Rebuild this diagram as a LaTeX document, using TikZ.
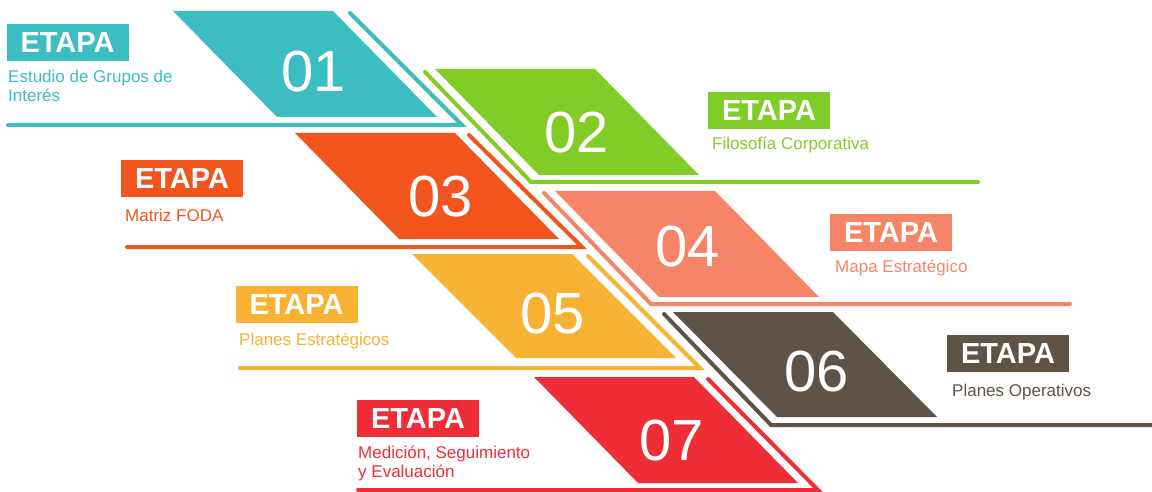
\documentclass[tikz,border=0pt]{standalone}
\usepackage{fontspec}
\setmainfont{Liberation Sans}
\usepackage{tikz}
\definecolor{turquesa}{HTML}{3BBDC2}
\definecolor{verde}{HTML}{82CC28}
\definecolor{naranja}{HTML}{F2541D}
\definecolor{salmon}{HTML}{F58566}
\definecolor{amarillo}{HTML}{F7B133}
\definecolor{cafe}{HTML}{5E5346}
\definecolor{rojo}{HTML}{EE2D36}

\begin{document}
\begin{tikzpicture}[x=1pt,y=-1pt,
  etapa/.style={fill=#1,text=white,font=\fontsize{29}{29}\selectfont\bfseries,
    minimum width=122pt,minimum height=37pt,inner sep=0pt},
  numero/.style={text=white,font=\fontsize{58}{58}\selectfont,inner sep=0pt},
  subtitulo/.style={text=#1,font=\fontsize{17}{20}\selectfont,anchor=base west,inner sep=0pt},
  acento/.style={draw=#1,line width=4pt,line cap=round,line join=miter}]
\useasboundingbox (0,0) rectangle (1152,492);
% etapa 01
\fill[turquesa] (173,11) -- (333,11) -- (437,117) -- (277,117) -- cycle;
\draw[acento=turquesa] (350,13) -- (462,125) -- (8,125);
\node[numero] (n01) at (314,72) {01};
\node[etapa=turquesa] (e01) at (67.5,42.5) {ETAPA};
\node[subtitulo=turquesa] (s01a) at (8,83) {Estudio de Grupos de};
\node[subtitulo=turquesa] (s01b) at (8,102) {Interés};
% etapa 02
\fill[verde] (435,69) -- (595,69) -- (699,175) -- (539,175) -- cycle;
\draw[acento=verde] (425,72) -- (531,182) -- (978,182);
\node[numero] (n02) at (577,133) {02};
\node[etapa=verde] (e02) at (769,111) {ETAPA};
\node[subtitulo=verde] (s02) at (712,150) {Filosofía Corporativa};
% etapa 03
\fill[naranja] (295,133) -- (455,133) -- (559,239) -- (399,239) -- cycle;
\draw[acento=naranja] (469,135) -- (582,247) -- (127,247);
\node[numero] (n03) at (441,197) {03};
\node[etapa=naranja] (e03) at (182,178.5) {ETAPA};
\node[subtitulo=naranja] (s03) at (125,222) {Matriz FODA};
% etapa 04
\fill[salmon] (555,191) -- (715,191) -- (819,297) -- (659,297) -- cycle;
\draw[acento=salmon] (544,193) -- (651,304) -- (1070,304);
\node[numero] (n04) at (688,247) {04};
\node[etapa=salmon] (e04) at (891,232.5) {ETAPA};
\node[subtitulo=salmon] (s04) at (835,272) {Mapa Estratégico};
% etapa 05
\fill[amarillo] (412,254) -- (572,254) -- (676,358) -- (516,358) -- cycle;
\draw[acento=amarillo] (588,256) -- (700,368) -- (240,368);
\node[numero] (n05) at (553,314) {05};
\node[etapa=amarillo] (e05) at (296.5,304.5) {ETAPA};
\node[subtitulo=amarillo] (s05) at (239,345) {Planes Estratégicos};
% etapa 06
\fill[cafe] (673,312) -- (833,312) -- (937,417) -- (777,417) -- cycle;
\draw[acento=cafe] (664,314) -- (771,425) -- (1160,425);
\node[numero] (n06) at (817,372) {06};
\node[etapa=cafe] (e06) at (1008,353.5) {ETAPA};
\node[subtitulo=cafe] (s06) at (952,396) {Planes Operativos};
% etapa 07
\fill[rojo] (534,377) -- (694,377) -- (798,483) -- (638,483) -- cycle;
\draw[acento=rojo] (708,379) -- (818,490) -- (358,490);
\node[numero] (n07) at (672,441) {07};
\node[etapa=rojo] (e07) at (418,418.5) {ETAPA};
\node[subtitulo=rojo] (s07a) at (358,458) {Medición, Seguimiento};
\node[subtitulo=rojo] (s07b) at (358,477) {y Evaluación};
\end{tikzpicture}
\end{document}
